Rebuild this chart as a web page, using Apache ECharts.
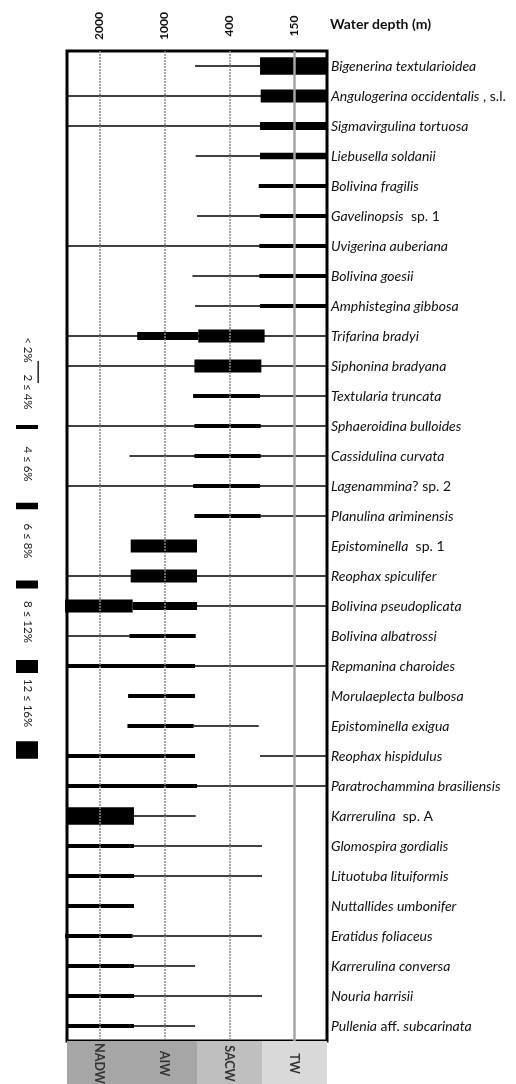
<!DOCTYPE html>
<html>
<head>
<meta charset="utf-8">
<script src="https://cdn.jsdelivr.net/npm/echarts@6/dist/echarts.min.js"></script>
<style>
html,body{margin:0;padding:0;background:#fff;}
#chart{width:516px;height:1084px;}
</style>
</head>
<body>
<div id="chart"></div>
<script>
// ---------------- DATA ----------------
// Species (segments separated by "|": odd segments are non-italic qualifiers)
const species = [
  'Bigenerina textularioidea',
  'Angulogerina occidentalis| , s.l.',
  'Sigmavirgulina tortuosa',
  'Liebusella soldanii',
  'Bolivina fragilis',
  'Gavelinopsis|  sp. 1',
  'Uvigerina auberiana',
  'Bolivina goesii',
  'Amphistegina gibbosa',
  'Trifarina bradyi',
  'Siphonina bradyana',
  'Textularia truncata',
  'Sphaeroidina bulloides',
  'Cassidulina curvata',
  'Lagenammina|? sp. 2',
  'Planulina ariminensis',
  'Epistominella|  sp. 1',
  'Reophax spiculifer',
  'Bolivina pseudoplicata',
  'Bolivina albatrossi',
  'Repmanina charoides',
  'Morulaeplecta bulbosa',
  'Epistominella exigua',
  'Reophax hispidulus',
  'Paratrochammina brasiliensis',
  'Karrerulina|  sp. A',
  'Glomospira gordialis',
  'Lituotuba lituiformis',
  'Nuttallides umbonifer',
  'Eratidus foliaceus',
  'Karrerulina conversa',
  'Nouria harrisii',
  'Pullenia| aff. |subcarinata'
];

// Depth stations (position 0..3 on the station scale)
const depthLabels = ['2000', '1000', '400', '150'];
const depthTitle = 'Water depth (m)';

// Water masses (label at station 0..3)
const waterMasses = ['NADW', 'AIW', 'SACW', 'TW'];

// Abundance classes (index used in abundanceBars)
const abundanceClasses = ['< 2%', '2 \u2264 4%', '4 \u2264 6%', '6 \u2264 8%', '8 \u2264 12%', '12 \u2264 16%'];

// Occurrences < 2 % : [species index, from station, to station]
const presenceRanges = [
  [0, 1.47, 3.5], [1, -0.5, 3.5], [2, -0.5, 3.5], [3, 1.48, 3.5],
  [5, 1.5, 3.5], [6, -0.5, 3.5], [7, 1.43, 3.5], [8, 1.47, 3.5],
  [9, -0.5, 3.5], [10, -0.5, 3.5], [11, 2.47, 3.5], [12, -0.5, 3.5],
  [13, 0.46, 3.5], [14, -0.5, 3.5], [15, 2.48, 3.5], [17, -0.5, 3.5],
  [18, 1.5, 3.5], [19, -0.5, 0.46], [20, 1.47, 3.5], [22, 1.45, 2.45],
  [23, 2.47, 3.5], [24, 1.5, 3.5], [25, 0.53, 1.48], [26, 0.53, 2.5],
  [27, 0.53, 2.5], [29, 0.51, 2.5], [30, 0.53, 1.47], [31, 0.53, 2.5],
  [32, 0.53, 1.47]
];

// Abundance bars: [species index, from station, to station, abundance class]
const abundanceBars = [
  [0, 2.47, 3.5, 5], [1, 2.48, 3.5, 4], [2, 2.47, 3.5, 3], [3, 2.47, 3.5, 2],
  [4, 2.45, 3.5, 1], [5, 2.47, 3.5, 1], [6, 2.46, 3.5, 1], [7, 2.46, 3.5, 1],
  [8, 2.47, 3.5, 1],
  [9, 0.58, 1.52, 3], [9, 1.52, 2.54, 4],
  [10, 1.46, 2.49, 4], [11, 1.44, 2.47, 1], [12, 1.46, 2.48, 1],
  [13, 1.46, 2.48, 1], [14, 1.44, 2.47, 1], [15, 1.46, 2.48, 1],
  [16, 0.48, 1.5, 4], [17, 0.48, 1.5, 4],
  [18, -0.53, 0.51, 4], [18, 0.51, 1.5, 3],
  [19, 0.46, 1.48, 1], [20, -0.5, 1.47, 1], [21, 0.44, 1.47, 1],
  [22, 0.43, 1.45, 1], [23, -0.5, 1.47, 1], [24, -0.5, 1.5, 1],
  [25, -0.5, 0.53, 5], [26, -0.5, 0.53, 1], [27, -0.5, 0.53, 1],
  [28, -0.5, 0.53, 1], [29, -0.53, 0.51, 1], [30, -0.5, 0.53, 1],
  [31, -0.5, 0.53, 1], [32, -0.5, 0.53, 1]
];

// ---------------- STYLE ----------------
const FONT = 'Lato';
const classThickness = [1.3, 4, 6.5, 8, 13, 17.5];
const waterMassColors = ['#a6a6a6', '#a6a6a6', '#bfbfbf', '#d9d9d9'];

const segData = presenceRanges.map(r => [r[0], r[1], r[2], 0])
  .concat(abundanceBars.map(r => [r[0], r[1], r[2], r[3]]));

function fmtSpecies(v) {
  return v.split('|').map((p, i) => (i % 2 === 0 ? '{i|' : '{r|') + p + '}').join('');
}

const chart = echarts.init(document.getElementById('chart'), null, {renderer: 'canvas'});

// legend graphics (drawn from abundanceClasses / classThickness)
const legendTextY = [350, 392, 464, 541, 622, 703];
const legendBarY = [372, 427, 506, 584.5, 666.5, 750];
const legendGraphics = [];
abundanceClasses.forEach((c, i) => {
  legendGraphics.push({
    type: 'text', x: 28, y: legendTextY[i], rotation: -Math.PI / 2,
    style: {text: c, font: '11.5px ' + FONT, fill: '#222', align: 'center', verticalAlign: 'middle'}
  });
  if (i === 0) {
    legendGraphics.push({type: 'rect', shape: {x: 37.5, y: legendBarY[i] - 11, width: 1.3, height: 22}, style: {fill: '#000'}});
  } else {
    const h = classThickness[i];
    legendGraphics.push({type: 'rect', shape: {x: 16, y: legendBarY[i] - h / 2, width: 22, height: h}, style: {fill: '#000'}});
  }
});

const option = {
  backgroundColor: '#fff',
  animation: false,
  title: {
    text: depthTitle, left: 325, top: 12,
    textStyle: {fontFamily: FONT, fontSize: 14, fontWeight: 'bold', color: '#111'}
  },
  graphic: legendGraphics,
  grid: [
    {left: 67, top: 51, width: 260, height: 990, show: true, borderColor: '#000', borderWidth: 3, backgroundColor: '#fff'},
    {left: 67, top: 1041, width: 260, height: 43, show: false}
  ],
  xAxis: [
    {type: 'value', gridIndex: 0, min: -0.5, max: 3.5, show: false},
    {type: 'category', gridIndex: 0, position: 'top', data: depthLabels, boundaryGap: true,
      axisLine: {show: false}, axisTick: {show: false}, splitLine: {show: false},
      axisLabel: {rotate: -90, margin: 25, align: 'center', verticalAlign: 'middle',
        fontFamily: FONT, fontSize: 12, fontWeight: 'bold', color: '#111'}},
    {type: 'value', gridIndex: 1, min: -0.5, max: 3.5, show: false}
  ],
  yAxis: [
    {type: 'category', gridIndex: 0, data: species, inverse: true, position: 'right',
      axisLine: {show: false}, axisTick: {show: false}, splitLine: {show: false},
      axisLabel: {margin: 4, formatter: fmtSpecies,
        rich: {
          i: {fontFamily: FONT, fontSize: 14, fontStyle: 'italic', color: '#111'},
          r: {fontFamily: FONT, fontSize: 14, fontStyle: 'normal', color: '#111'}
        }}},
    {type: 'value', gridIndex: 1, min: 0, max: 1, show: false}
  ],
  series: [
    {
      type: 'line', xAxisIndex: 0, yAxisIndex: 0, data: [], z: 1, silent: true,
      markLine: {
        symbol: 'none', silent: true, label: {show: false},
        data: depthLabels.map((d, i) => ({
          xAxis: i,
          lineStyle: i < 3 ? {color: '#8a8a8a', width: 1.5, type: [2, 1]} : {color: '#a6a6a6', width: 2.5, type: 'solid'}
        }))
      }
    },
    {
      type: 'custom', xAxisIndex: 0, yAxisIndex: 0, z: 3, data: segData,
      renderItem: function (params, api) {
        const row = api.value(0), a = api.value(1), b = api.value(2), cls = api.value(3);
        const p0 = api.coord([a, row]), p1 = api.coord([b, row]);
        const h = classThickness[cls];
        return {type: 'rect', shape: {x: p0[0], y: p0[1] - h / 2, width: p1[0] - p0[0], height: h}, style: {fill: '#000'}};
      }
    },
    {
      type: 'custom', xAxisIndex: 2, yAxisIndex: 1, z: 2,
      data: waterMasses.map((w, i) => [i, w]),
      renderItem: function (params, api) {
        const i = api.value(0);
        const p0 = api.coord([i - 0.5, 1]), p1 = api.coord([i + 0.5, 0]);
        const c = api.coord([i, 0.5]);
        return {
          type: 'group', children: [
            {type: 'rect', shape: {x: p0[0], y: p0[1], width: p1[0] - p0[0], height: p1[1] - p0[1]}, style: {fill: waterMassColors[i]}},
            {type: 'text', x: c[0], y: c[1] + 1, rotation: -Math.PI / 2,
              style: {text: waterMasses[i], font: 'bold 12.5px ' + FONT, fill: '#333', align: 'center', verticalAlign: 'middle'}}
          ]
        };
      }
    }
  ]
};
chart.setOption(option);
</script>
</body>
</html>
